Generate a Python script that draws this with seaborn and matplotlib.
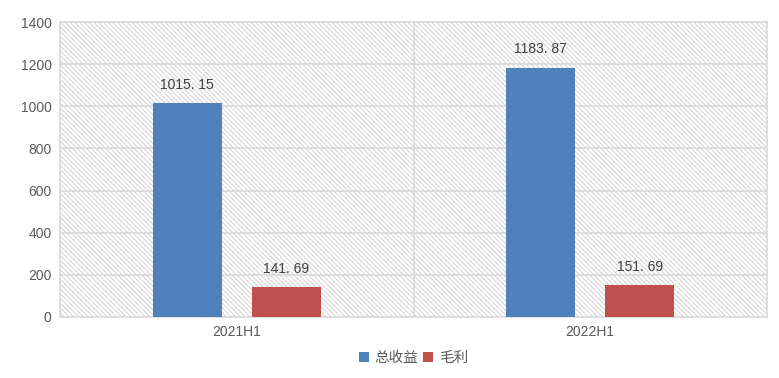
import numpy as np
import pandas as pd
import matplotlib
matplotlib.use("Agg")
import matplotlib.pyplot as plt
from matplotlib.patches import Rectangle
import seaborn as sns

# 数据
periods = ["2021H1", "2022H1"]
series = ["总收益", "毛利"]
revenue = [1015.15, 1183.87]
gross_profit = [141.69, 151.69]
colors = ["#4F81BD", "#C0504D"]

df = pd.DataFrame({
  "period": periods * 2,
  "series": [series[0]] * 2 + [series[1]] * 2,
  "value": revenue + gross_profit,
})

sns.set_style("white")
plt.rcParams["font.family"] = ["Liberation Sans", "Noto Sans CJK SC", "DejaVu Sans"]
plt.rcParams["hatch.linewidth"] = 0.75
plt.rcParams["hatch.color"] = "#d6d6d6"

fig = plt.figure(figsize=(7.79, 3.78), dpi=100)
ax = fig.add_axes([60 / 779, 1 - 317 / 378, 707 / 779, 295 / 378])

# 斜线背景
bg = Rectangle((0, 0), 1, 1, transform=ax.transAxes, facecolor="white",
               edgecolor="#d6d6d6", hatch="\\" * 7, linewidth=0, zorder=0)
ax.add_patch(bg)

sns.barplot(
  data=df, x="period", y="value", hue="series",
  palette=colors, width=0.56, gap=0.3, saturation=1,
  edgecolor="none", ax=ax, zorder=3,
)

for container in ax.containers:
  labels = [f"{v:.2f}".replace(".", ". ") for v in container.datavalues]
  ax.bar_label(container, labels=labels, padding=8, fontsize=10,
               color="#404040")

ax.set_ylim(0, 1400)
ax.set_yticks(np.arange(0, 1401, 200))
ax.set_xlim(-0.5, 1.5)
ax.yaxis.grid(True, color="#d9d9d9", linewidth=1.2, zorder=1)
ax.set_axisbelow(False)
for gl in ax.get_ygridlines():
  gl.set_zorder(1)
ax.axvline(0.5, color="#d9d9d9", linewidth=1.2, zorder=1)

for s in ax.spines.values():
  s.set_color("#d9d9d9")
  s.set_linewidth(1.2)
  s.set_visible(True)

ax.tick_params(axis="both", length=0, labelsize=10, labelcolor="#595959", pad=6)
ax.set_xlabel("")
ax.set_ylabel("")

handles, labels = ax.get_legend_handles_labels()
ax.legend(
  handles, labels, loc="center", bbox_to_anchor=(0.5, -0.14),
  ncol=2, frameon=False, handlelength=0.7, handleheight=0.7,
  handletextpad=0.4, columnspacing=0.3, labelcolor="#595959",
  prop={"family": ["Noto Sans CJK SC"], "size": 10.5},
)

plt.savefig("out.png", dpi=100)
